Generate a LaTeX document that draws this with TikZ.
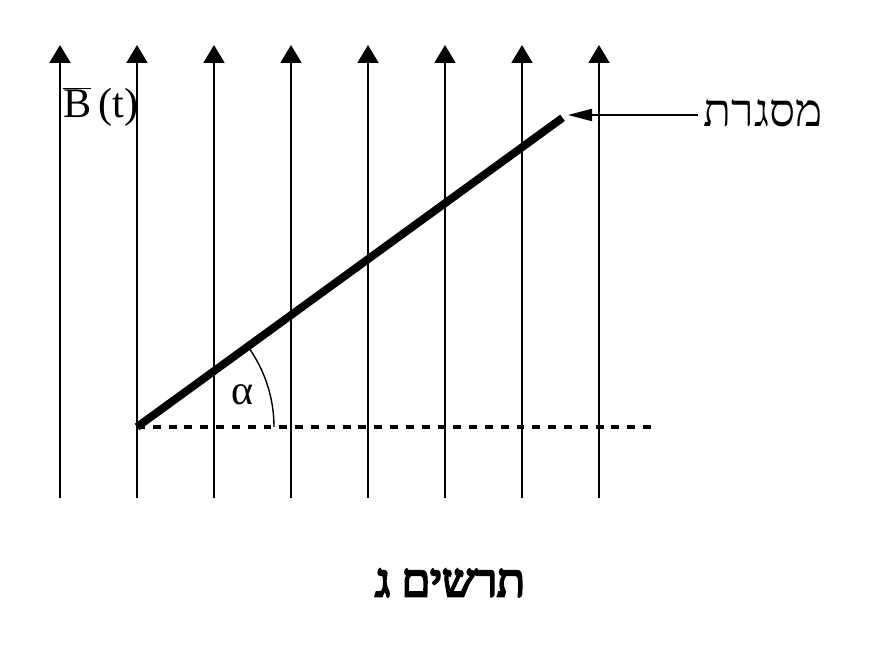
\documentclass[tikz,border=0pt]{standalone}
\usepackage{fontspec}
\setmainfont{Liberation Serif}
\newfontfamily\hebfont[Script=Hebrew]{Liberation Serif}
\newfontfamily\hebboldfont[Script=Hebrew,FakeBold=5]{Liberation Serif}
\usetikzlibrary{arrows.meta}
\TeXXeTstate=1

\def\fieldBottom{2.94}
\def\fieldTop{12.0}
\def\fieldStep{1.54}

\begin{document}
\begin{tikzpicture}[
    font=\fontsize{24}{28}\selectfont,
    field/.style={line width=1.1pt, -{Triangle[length=0.36cm,width=0.42cm]}},
    frame/.style={line width=4.5pt},
    level/.style={line width=2.1pt, dash pattern=on 4.5pt off 4.5pt},
  ]
  \useasboundingbox (0,0) rectangle (17.4,12.9);

  % Field lines
  \foreach \i in {0,...,7}
    \draw[field] (1.2+\fieldStep*\i, \fieldBottom) -- (1.2+\fieldStep*\i, \fieldTop);

  % Frame and angle
  \coordinate (pivot) at (2.74,4.36);
  \path (pivot) ++(36:10.52) coordinate (frameTop);
  \draw[frame] (pivot) -- (frameTop);
  \draw[level] (pivot) -- ++(10.4,0) coordinate (levelEnd);
  \draw[line width=0.8pt]
    (pivot) ++(2.74,0) arc[start angle=0, end angle=36, radius=2.74]
  ;

  % Labels
  \node (alpha) at (4.86,5.0) {α};
  \node[anchor=base west, inner sep=0] (fieldLabel) at (1.26,10.54)
    {$\overline{\hbox{B}}$\,(t)};

  \coordinate (frameTip) at (11.36,10.6);
  \node[font=\hebfont\fontsize{26}{30}\selectfont] (frameLabel) at (15.26,10.64)
    {\beginR מסגרת\endR};
  \draw[line width=1.1pt, -{Triangle[length=0.48cm,width=0.24cm]}]
    (frameLabel.west |- frameTip) -- (frameTip)
  ;

  \node[font=\hebboldfont\fontsize{26}{30}\selectfont] (caption) at (9.0,1.24)
    {\beginR תרשים ג\endR};
\end{tikzpicture}
\end{document}
